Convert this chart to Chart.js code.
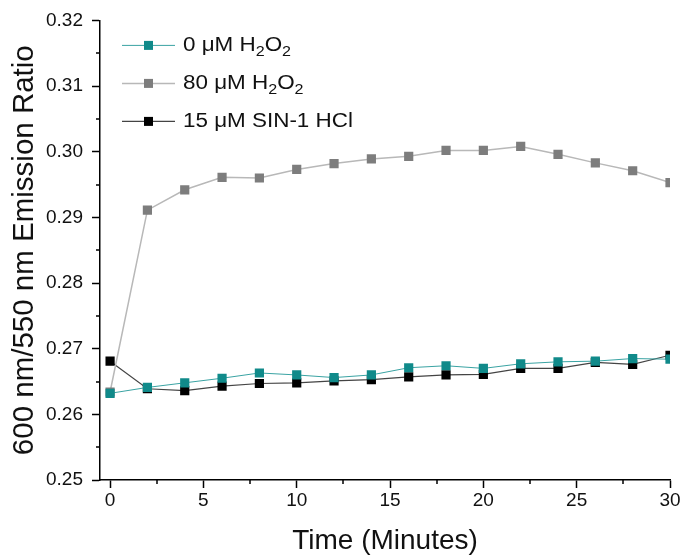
<!DOCTYPE html>
<html>
<head>
<meta charset="utf-8">
<script src="https://cdn.jsdelivr.net/npm/chart.js@4/dist/chart.umd.min.js"></script>
<style>
  html, body { margin: 0; padding: 0; background: #fff; }
  canvas { display: block; }
</style>
</head>
<body>
<canvas id="c" width="685" height="556"></canvas>
<script>
// ---- data ----
const minutes = [0, 2, 4, 6, 8, 10, 12, 14, 16, 18, 20, 22, 24, 26, 28, 30];
const h2o2_0uM = [0.2632, 0.2641, 0.2648, 0.2655, 0.2663, 0.2660, 0.2656, 0.2660, 0.2671, 0.2674, 0.2670, 0.2677, 0.2680, 0.2681, 0.2685, 0.2684];
const h2o2_80uM = [0.2634, 0.2911, 0.2942, 0.2961, 0.2960, 0.2973, 0.2982, 0.2989, 0.2993, 0.3002, 0.3002, 0.3008, 0.2996, 0.2983, 0.2971, 0.2953];
const sin1_15uM = [0.2681, 0.2639, 0.2636, 0.2643, 0.2647, 0.2648, 0.2651, 0.2653, 0.2657, 0.2660, 0.2661, 0.2670, 0.2670, 0.2679, 0.2676, 0.2690];
const seriesLabels = ["0 μM H₂O₂", "80 μM H₂O₂", "15 μM SIN-1 HCl"];
const xTicks = [0, 5, 10, 15, 20, 25, 30];
const yTicks = [0.25, 0.26, 0.27, 0.28, 0.29, 0.30, 0.31, 0.32];
const xTitle = "Time (Minutes)";
const yTitle = "600 nm/550 nm Emission Ratio";

const FONT = "'Liberation Sans', Arial, sans-serif";
const toPts = (ys) => minutes.map((m, i) => ({ x: m, y: ys[i] }));

// minor ticks halfway between major ticks
const minorTicks = {
  id: 'minorTicks',
  afterDraw(chart) {
    const ctx = chart.ctx;
    const xs = chart.scales.x, ys = chart.scales.y;
    const ca = chart.chartArea;
    ctx.save();
    ctx.strokeStyle = '#000';
    ctx.lineWidth = 1.5;
    ctx.beginPath();
    for (let i = 0; i < xTicks.length - 1; i++) {
      const px = Math.round(xs.getPixelForValue((xTicks[i] + xTicks[i + 1]) / 2));
      ctx.moveTo(px, ca.bottom);
      ctx.lineTo(px, ca.bottom + 4);
    }
    for (let i = 0; i < yTicks.length - 1; i++) {
      const py = Math.round(ys.getPixelForValue((yTicks[i] + yTicks[i + 1]) / 2));
      ctx.moveTo(ca.left, py);
      ctx.lineTo(ca.left - 4, py);
    }
    ctx.stroke();
    ctx.restore();
  }
};

function drawRich(ctx, text, x, y, size, sx) {
  // renders ₂ as a lowered small 2; sx = horizontal stretch
  ctx.save();
  ctx.translate(x, y);
  ctx.scale(sx, 1);
  let cx = 0;
  for (const ch of text) {
    if (ch === '₂') {
      ctx.font = `${Math.round(size * 0.7)}px ${FONT}`;
      ctx.fillText('2', cx, size * 0.33);
      cx += ctx.measureText('2').width;
    } else {
      ctx.font = `${size}px ${FONT}`;
      ctx.fillText(ch, cx, 0);
      cx += ctx.measureText(ch).width;
    }
  }
  ctx.restore();
}

const insideLegend = {
  id: 'insideLegend',
  afterDraw(chart) {
    const ctx = chart.ctx;
    const ca = chart.chartArea;
    const size = 19.5;
    ctx.save();
    chart.data.datasets.forEach((ds, i) => {
      const y = ca.top + 25 + i * 38;
      const x0 = ca.left + 22;
      ctx.strokeStyle = ds.borderColor;
      ctx.lineWidth = ds.borderWidth;
      ctx.beginPath();
      ctx.moveTo(x0, y);
      ctx.lineTo(x0 + 53, y);
      ctx.stroke();
      ctx.fillStyle = ds.pointBackgroundColor;
      ctx.fillRect(x0 + 22, y - 4.5, 9, 9);
      ctx.fillStyle = '#111';
      ctx.textBaseline = 'middle';
      ctx.textAlign = 'left';
      drawRich(ctx, ds.label, x0 + 61, y, size, 1.15);
    });
    ctx.restore();
  }
};

new Chart(document.getElementById('c'), {
  type: 'line',
  data: {
    datasets: [
      {
        label: seriesLabels[0], data: toPts(h2o2_0uM),
        borderColor: '#3aa3a3', borderWidth: 1, pointStyle: 'rect', pointRadius: 6.5,
        pointBackgroundColor: '#108a8a', pointBorderColor: '#108a8a', pointBorderWidth: 0
      },
      {
        label: seriesLabels[1], data: toPts(h2o2_80uM),
        borderColor: '#b8b8b8', borderWidth: 1.5, pointStyle: 'rect', pointRadius: 6.5,
        pointBackgroundColor: '#7d7d7d', pointBorderColor: '#7d7d7d', pointBorderWidth: 0
      },
      {
        label: seriesLabels[2], data: toPts(sin1_15uM),
        borderColor: '#444444', borderWidth: 1.2, pointStyle: 'rect', pointRadius: 6.5,
        pointBackgroundColor: '#000000', pointBorderColor: '#000000', pointBorderWidth: 0
      }
    ]
  },
  options: {
    responsive: false,
    devicePixelRatio: 1,
    animation: false,
    layout: { padding: { top: 20, right: 15, left: 0, bottom: 0 } },
    plugins: { legend: { display: false }, tooltip: { enabled: false } },
    scales: {
      x: {
        type: 'linear', min: -0.54, max: 30,
        afterBuildTicks: (s) => { s.ticks = xTicks.map(v => ({ value: v })); },
        afterFit: (s) => { s.height = 76; },
        ticks: { font: { family: FONT, size: 19 }, color: '#111', padding: 1, maxRotation: 0, autoSkip: false },
        grid: { drawOnChartArea: false, tickLength: 8, tickColor: '#000', tickWidth: 1.5 },
        border: { color: '#000', width: 1.5 },
        title: { display: true, text: xTitle, font: { family: FONT, size: 28 }, color: '#111', padding: { top: 2, bottom: -2 } }
      },
      y: {
        type: 'linear', min: 0.25, max: 0.32,
        afterBuildTicks: (s) => { s.ticks = yTicks.map(v => ({ value: v })); },
        afterFit: (s) => { s.width = 100; },
        ticks: { font: { family: FONT, size: 19 }, color: '#111', padding: 9, callback: (v) => v.toFixed(2) },
        grid: { drawOnChartArea: false, tickLength: 8, tickColor: '#000', tickWidth: 1.5 },
        border: { color: '#000', width: 1.5 },
        title: { display: true, text: yTitle, font: { family: FONT, size: 29.5 }, color: '#111', padding: { top: 7, bottom: 4 } }
      }
    }
  },
  plugins: [minorTicks, insideLegend]
});
</script>
</body>
</html>
